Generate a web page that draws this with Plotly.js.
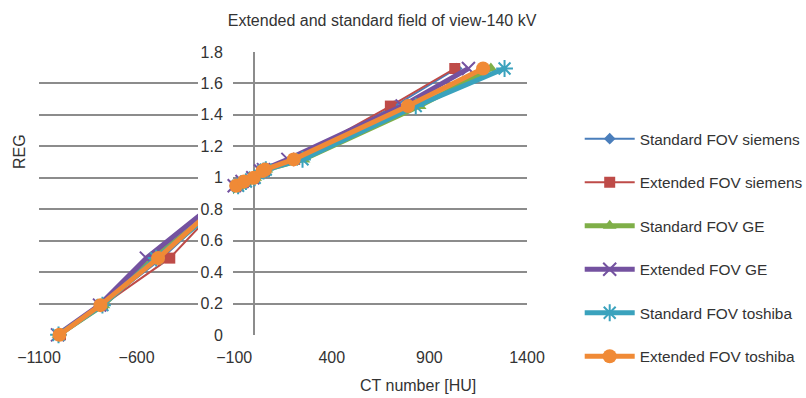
<!DOCTYPE html>
<html>
<head>
<meta charset="utf-8">
<script src="https://cdn.plot.ly/plotly-3.0.1.min.js"></script>
<style>html,body{margin:0;padding:0;background:#fff;}#chart{width:806px;height:398px;}</style>
</head>
<body>
<div id="chart"></div>
<script>
// ---- data ----
const seriesNames = [
  "Standard FOV siemens", "Extended FOV siemens", "Standard FOV GE",
  "Extended FOV GE", "Standard FOV toshiba", "Extended FOV toshiba"
];
// relative electron density (REG) of the phantom inserts
const reg = [0.001, 0.190, 0.489, 0.949, 0.976, 1.000, 1.043, 1.052, 1.117, 1.456, 1.695];
// CT numbers [HU] read for each series
const ctStdSiemens = [-995, -780, -470, -85, -45, 2, 45, 58, 215, 720, 1040];
const ctExtSiemens = [-990, -775, -430, -80, -40, 5, 48, 62, 210, 700, 1030];
const ctStdGE      = [-1000, -770, -515, -75, -35, 8, 52, 65, 255, 850, 1215];
const ctExtGE      = [-1005, -790, -550, -100, -60, -5, 35, 50, 175, 760, 1100];
const ctStdToshiba = [-1000, -775, -500, -80, -40, 5, 50, 62, 250, 830, 1285];
const ctExtToshiba = [-995, -785, -490, -90, -50, 0, 45, 58, 205, 790, 1175];
const ctSeries = [ctStdSiemens, ctExtSiemens, ctStdGE, ctExtGE, ctStdToshiba, ctExtToshiba];

const xTickLeft = [-1100, -600];
const xTickRight = [-100, 400, 900, 1400];
const yTicks = [0, 0.2, 0.4, 0.6, 0.8, 1, 1.2, 1.4, 1.6, 1.8];

// ---- styles ----
const colors = ["#4a7ebb", "#be4b48", "#7faf48", "#7452a0", "#3aa2bd", "#f08a36"];
const lineWidths = [2, 2, 5, 5, 5, 5];
const markerStyles = [
  {symbol: "diamond", size: 9},
  {symbol: "square", size: 11},
  {symbol: "triangle-up", size: 12},
  {symbol: "x-thin-open", size: 13, lw: 2},
  {symbol: "asterisk-open", size: 14, lw: 2},
  {symbol: "circle", size: 14}
];

// ---- geometry: full x range, split by the label column ----
const xFull = [-1100, 1400];
const gap = [-285, -106];
const fullSpan = xFull[1] - xFull[0];
const leftDomain = [0, (gap[0] - xFull[0]) / fullSpan];
const rightDomain = [(gap[1] - xFull[0]) / fullSpan, 1];

const gridColor = "#8c8c8c";
const txt = "#333333";
const fontFam = "Liberation Sans, Arial, sans-serif";
const fs = 16;

const traces = [];
["x", "x2"].forEach((xa, side) => {
  seriesNames.forEach((name, i) => {
    const ms = markerStyles[i];
    const marker = {symbol: ms.symbol, size: ms.size, color: colors[i]};
    if (ms.lw) marker.line = {width: ms.lw, color: colors[i]};
    traces.push({
      type: "scatter", mode: "lines+markers",
      x: ctSeries[i], y: reg, name: name,
      xaxis: xa, yaxis: side === 0 ? "y" : "y2",
      line: {color: colors[i], width: lineWidths[i]},
      marker: marker, cliponaxis: false,
      legendgroup: "g" + i, showlegend: side === 1,
      hoverinfo: "x+y+name"
    });
  });
});

const yBase = {
  range: [0, 1.8], tickvals: yTicks, showgrid: true, gridcolor: gridColor, gridwidth: 2,
  zeroline: false, showline: false, fixedrange: true
};

const layout = {
  width: 806, height: 398,
  margin: {l: 39, r: 279, t: 52, b: 63, autoexpand: false},
  paper_bgcolor: "#fff", plot_bgcolor: "rgba(0,0,0,0)",
  font: {family: fontFam, size: fs, color: txt},
  showlegend: true,
  title: {
    text: "Extended and standard field of view-140 kV",
    font: {size: fs, color: txt},
    xref: "paper", x: 0.703, xanchor: "center",
    yref: "container", y: 0.948, yanchor: "middle"
  },
  xaxis: {
    domain: leftDomain, range: [xFull[0], gap[0]], tickvals: xTickLeft,
    showgrid: false, zeroline: false, showline: false,
    ticks: "outside", ticklen: 8, tickcolor: "rgba(0,0,0,0)",
    tickfont: {size: fs, color: txt}, anchor: "y"
  },
  xaxis2: {
    domain: rightDomain, range: [gap[1], xFull[1]], tickvals: xTickRight,
    showgrid: false, zeroline: true, zerolinecolor: gridColor, zerolinewidth: 2,
    showline: false,
    ticks: "outside", ticklen: 8, tickcolor: "rgba(0,0,0,0)",
    tickfont: {size: fs, color: txt}, anchor: "y2"
  },
  yaxis: Object.assign({}, yBase, {anchor: "x", showticklabels: false}),
  yaxis2: Object.assign({}, yBase, {
    anchor: "x2", showticklabels: true, side: "left",
    ticks: "outside", ticklen: 6, tickcolor: "rgba(0,0,0,0)",
    tickfont: {size: fs, color: txt}
  }),
  legend: {
    x: 1.108, xanchor: "left", y: 0.752, yanchor: "top",
    font: {size: 15.4, color: txt}, itemwidth: 50,
    tracegroupgap: 20.5, bgcolor: "rgba(0,0,0,0)", traceorder: "grouped"
  },
  annotations: [
    {text: "CT number [HU]", xref: "paper", yref: "paper", x: 0.777, y: -0.177,
     xanchor: "center", yanchor: "middle", showarrow: false, font: {size: fs, color: txt}},
    {text: "REG", xref: "paper", yref: "paper", x: -0.041, y: 0.65, textangle: -90,
     xanchor: "center", yanchor: "middle", showarrow: false, font: {size: fs, color: txt}}
  ]
};

Plotly.newPlot("chart", traces, layout, {staticPlot: true, displayModeBar: false});
</script>
</body>
</html>
